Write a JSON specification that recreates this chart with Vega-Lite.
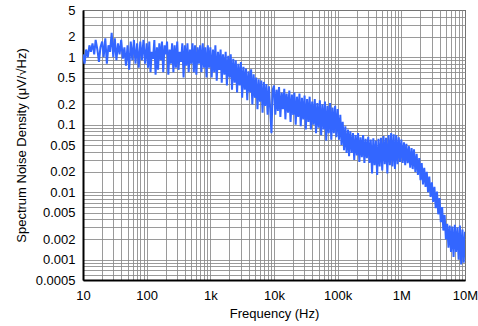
{
"$schema":"https://vega.github.io/schema/vega-lite/v6.json",
"autosize":"none",
"width":382,"height":270,
"padding":{"left":83,"top":10,"right":13,"bottom":46},
"background":"white",
"config":{"view":{"stroke":"black","strokeWidth":1},"font":"Liberation Sans"},
"data":{"values":[
{"f":10,"v":1.1},{"f":10.6,"v":0.8},{"f":11.2,"v":1.3},{"f":11.9,"v":1.0},{"f":12.6,"v":1.5},{"f":13.3,"v":1.2},{"f":14.1,"v":1.6},{"f":15,"v":1.1},{"f":15.8,"v":1.8},{"f":16.8,"v":1.3},{"f":17.8,"v":0.85},{"f":18.8,"v":1.4},{"f":20,"v":1.7},{"f":21.1,"v":1.0},{"f":22.4,"v":1.9},{"f":23.7,"v":0.8},{"f":25.1,"v":1.5},{"f":26.6,"v":1.2},{"f":28.2,"v":2.3},{"f":29.9,"v":1.0},{"f":31.6,"v":1.9},{"f":33.5,"v":0.9},{"f":35.5,"v":1.6},{"f":37.6,"v":1.1},{"f":39.8,"v":1.8},{"f":42.2,"v":0.95},{"f":44.7,"v":1.4},{"f":47.3,"v":0.75},{"f":50.1,"v":1.5},{"f":53.1,"v":0.65},{"f":56.2,"v":1.7},{"f":59.6,"v":0.9},{"f":63.1,"v":1.8},{"f":66.8,"v":0.8},{"f":70.8,"v":1.6},{"f":75,"v":0.7},{"f":79.4,"v":1.7},{"f":84.1,"v":0.9},{"f":89.1,"v":1.8},{"f":94.4,"v":0.8},
{"f":100,"v":1.6},{"f":105,"v":0.7},{"f":110,"v":1.7},{"f":115,"v":0.6},{"f":120,"v":1.2},{"f":126,"v":0.95},{"f":132,"v":1.8},{"f":138,"v":0.55},{"f":145,"v":1.4},{"f":151,"v":0.65},{"f":158,"v":1.6},{"f":166,"v":0.9},{"f":174,"v":1.7},{"f":182,"v":0.6},{"f":191,"v":1.5},{"f":200,"v":1.1},{"f":209,"v":1.7},{"f":219,"v":0.55},{"f":229,"v":1.3},{"f":240,"v":0.8},{"f":251,"v":1.6},{"f":263,"v":0.6},{"f":275,"v":1.5},{"f":288,"v":0.7},{"f":302,"v":1.7},{"f":316,"v":0.65},{"f":331,"v":1.2},{"f":347,"v":0.85},{"f":363,"v":1.6},{"f":380,"v":0.5},{"f":398,"v":1.5},{"f":417,"v":0.75},{"f":437,"v":1.6},{"f":457,"v":0.6},{"f":479,"v":1.3},{"f":501,"v":0.8},{"f":525,"v":1.6},{"f":550,"v":0.6},{"f":575,"v":1.5},{"f":603,"v":0.55},{"f":631,"v":1.4},{"f":661,"v":0.8},{"f":692,"v":1.5},{"f":724,"v":0.6},{"f":759,"v":1.6},{"f":794,"v":0.7},{"f":832,"v":1.4},{"f":871,"v":0.5},{"f":912,"v":1.5},{"f":955,"v":0.7},
{"f":1000,"v":1.4},{"f":1050,"v":0.5},{"f":1100,"v":1.3},{"f":1150,"v":0.6},{"f":1200,"v":1.5},{"f":1260,"v":0.45},{"f":1320,"v":1.2},{"f":1380,"v":0.65},{"f":1450,"v":1.3},{"f":1510,"v":0.42},{"f":1580,"v":1.1},{"f":1660,"v":0.55},{"f":1740,"v":1.2},{"f":1820,"v":0.38},{"f":1910,"v":1.05},{"f":2000,"v":0.5},{"f":2090,"v":1.1},{"f":2190,"v":0.33},{"f":2290,"v":0.95},{"f":2400,"v":0.42},{"f":2510,"v":0.9},{"f":2630,"v":0.3},{"f":2750,"v":0.8},{"f":2880,"v":0.38},{"f":3020,"v":0.85},{"f":3160,"v":0.25},{"f":3310,"v":0.72},{"f":3470,"v":0.33},{"f":3630,"v":0.68},{"f":3800,"v":0.23},{"f":3980,"v":0.62},{"f":4170,"v":0.3},{"f":4370,"v":0.66},{"f":4570,"v":0.2},{"f":4790,"v":0.56},{"f":5010,"v":0.25},{"f":5250,"v":0.5},{"f":5500,"v":0.17},{"f":5750,"v":0.47},{"f":6030,"v":0.22},{"f":6310,"v":0.45},{"f":6610,"v":0.15},{"f":6920,"v":0.43},{"f":7240,"v":0.19},{"f":7590,"v":0.4},{"f":7940,"v":0.14},{"f":8320,"v":0.37},{"f":8710,"v":0.17},{"f":9120,"v":0.075},{"f":9550,"v":0.33},
{"f":10000,"v":0.38},{"f":10500,"v":0.14},{"f":11000,"v":0.33},{"f":11500,"v":0.16},{"f":12000,"v":0.36},{"f":12600,"v":0.13},{"f":13200,"v":0.3},{"f":13800,"v":0.17},{"f":14500,"v":0.34},{"f":15100,"v":0.12},{"f":15800,"v":0.29},{"f":16600,"v":0.15},{"f":17400,"v":0.32},{"f":18200,"v":0.11},{"f":19100,"v":0.28},{"f":20000,"v":0.14},{"f":20900,"v":0.3},{"f":21900,"v":0.1},{"f":22900,"v":0.26},{"f":24000,"v":0.13},{"f":25100,"v":0.29},{"f":26300,"v":0.095},{"f":27500,"v":0.25},{"f":28800,"v":0.12},{"f":30200,"v":0.27},{"f":31600,"v":0.085},{"f":33100,"v":0.24},{"f":34700,"v":0.11},{"f":36300,"v":0.26},{"f":38000,"v":0.085},{"f":39800,"v":0.22},{"f":41700,"v":0.1},{"f":43700,"v":0.24},{"f":45700,"v":0.075},{"f":47900,"v":0.21},{"f":50100,"v":0.09},{"f":52500,"v":0.23},{"f":55000,"v":0.07},{"f":57500,"v":0.2},{"f":60300,"v":0.085},{"f":63100,"v":0.22},{"f":66100,"v":0.058},{"f":69200,"v":0.19},{"f":72400,"v":0.075},{"f":75900,"v":0.21},{"f":79400,"v":0.06},{"f":83200,"v":0.18},{"f":87100,"v":0.075},{"f":91200,"v":0.19},{"f":95500,"v":0.065},
{"f":100000,"v":0.17},{"f":105000,"v":0.06},{"f":110000,"v":0.14},{"f":115000,"v":0.05},{"f":120000,"v":0.11},{"f":126000,"v":0.042},{"f":132000,"v":0.095},{"f":138000,"v":0.038},{"f":145000,"v":0.085},{"f":151000,"v":0.034},{"f":158000,"v":0.08},{"f":166000,"v":0.038},{"f":174000,"v":0.075},{"f":182000,"v":0.03},{"f":191000,"v":0.07},{"f":200000,"v":0.035},{"f":209000,"v":0.075},{"f":219000,"v":0.028},{"f":229000,"v":0.065},{"f":240000,"v":0.033},{"f":251000,"v":0.07},{"f":263000,"v":0.027},{"f":275000,"v":0.062},{"f":288000,"v":0.032},{"f":302000,"v":0.066},{"f":316000,"v":0.027},{"f":331000,"v":0.06},{"f":347000,"v":0.019},{"f":363000,"v":0.063},{"f":380000,"v":0.025},{"f":398000,"v":0.058},{"f":417000,"v":0.018},{"f":437000,"v":0.062},{"f":457000,"v":0.024},{"f":479000,"v":0.064},{"f":501000,"v":0.021},{"f":525000,"v":0.068},{"f":550000,"v":0.026},{"f":575000,"v":0.064},{"f":603000,"v":0.019},{"f":631000,"v":0.07},{"f":661000,"v":0.025},{"f":692000,"v":0.075},{"f":724000,"v":0.024},{"f":759000,"v":0.072},{"f":794000,"v":0.022},{"f":832000,"v":0.07},{"f":871000,"v":0.026},{"f":912000,"v":0.065},{"f":955000,"v":0.028},
{"f":1000000,"v":0.06},{"f":1050000,"v":0.027},{"f":1100000,"v":0.055},{"f":1150000,"v":0.025},{"f":1200000,"v":0.052},{"f":1260000,"v":0.027},{"f":1320000,"v":0.048},{"f":1380000,"v":0.023},{"f":1450000,"v":0.045},{"f":1510000,"v":0.022},{"f":1580000,"v":0.043},{"f":1660000,"v":0.02},{"f":1740000,"v":0.037},{"f":1820000,"v":0.018},{"f":1910000,"v":0.032},{"f":2000000,"v":0.015},{"f":2090000,"v":0.027},{"f":2190000,"v":0.013},{"f":2290000,"v":0.023},{"f":2400000,"v":0.012},{"f":2510000,"v":0.02},{"f":2630000,"v":0.01},{"f":2750000,"v":0.017},{"f":2880000,"v":0.0085},{"f":3020000,"v":0.014},{"f":3160000,"v":0.0072},{"f":3310000,"v":0.012},{"f":3470000,"v":0.0058},{"f":3630000,"v":0.0102},{"f":3800000,"v":0.0047},{"f":3980000,"v":0.0082},{"f":4170000,"v":0.0036},{"f":4370000,"v":0.006},{"f":4570000,"v":0.0027},{"f":4790000,"v":0.0046},{"f":5010000,"v":0.002},{"f":5250000,"v":0.0034},{"f":5500000,"v":0.0015},{"f":5750000,"v":0.0032},{"f":6030000,"v":0.0013},{"f":6310000,"v":0.0031},{"f":6610000,"v":0.0011},{"f":6920000,"v":0.0033},{"f":7240000,"v":0.0013},{"f":7590000,"v":0.003},{"f":7940000,"v":0.001},{"f":8320000,"v":0.0032},{"f":8710000,"v":0.00085},{"f":9120000,"v":0.0028},{"f":9550000,"v":0.0009},{"f":10000000,"v":0.0026}
]},
"mark":{"type":"line","color":"#3366ff","strokeWidth":2,"clip":true},
"encoding":{
"x":{"field":"f","type":"quantitative","scale":{"type":"log","domain":[10,10000000],"nice":false},
"axis":{"title":"Frequency (Hz)","titleFont":"Liberation Sans","titleFontSize":13,"titleFontWeight":"normal","titleColor":"black","titlePadding":5,
"labelFont":"Liberation Sans","labelFontSize":13,"labelColor":"black","labelPadding":9,"ticks":false,"labelFlush":false,"labelOverlap":false,
"domain":true,"domainColor":"black","domainWidth":2,"grid":true,"gridColor":"#888","gridOpacity":0.85,"gridWidth":1,
"values":[10,20,30,40,50,60,70,80,90,100,200,300,400,500,600,700,800,900,1000,2000,3000,4000,5000,6000,7000,8000,9000,10000,20000,30000,40000,50000,60000,70000,80000,90000,100000,200000,300000,400000,500000,600000,700000,800000,900000,1000000,2000000,3000000,4000000,5000000,6000000,7000000,8000000,9000000,10000000],
"labelExpr":"datum.value==10?'10':datum.value==100?'100':datum.value==1000?'1k':datum.value==10000?'10k':datum.value==100000?'100k':datum.value==1000000?'1M':datum.value==10000000?'10M':''"}},
"y":{"field":"v","type":"quantitative","scale":{"type":"log","domain":[0.0005,5],"nice":false},
"axis":{"title":"Spectrum Noise Density (μV/√Hz)","titleFont":"Liberation Sans","titleFontSize":13,"titleFontWeight":"normal","titleColor":"black","titlePadding":7,
"labelFont":"Liberation Sans","labelFontSize":13,"labelColor":"black","labelPadding":8,"ticks":false,"labelFlush":false,"labelOverlap":false,
"domain":true,"domainColor":"black","domainWidth":2,"grid":true,"gridColor":"#888","gridOpacity":0.85,"gridWidth":1,
"values":[0.0005,0.0006,0.0007,0.0008,0.0009,0.001,0.002,0.003,0.004,0.005,0.006,0.007,0.008,0.009,0.01,0.02,0.03,0.04,0.05,0.06,0.07,0.08,0.09,0.1,0.2,0.3,0.4,0.5,0.6,0.7,0.8,0.9,1,2,3,4,5],
"labelExpr":"indexof([0.0005,0.001,0.002,0.005,0.01,0.02,0.05,0.1,0.2,0.5,1,2,5], datum.value) >= 0 ? format(datum.value, '~g') : ''"}}
}
}
